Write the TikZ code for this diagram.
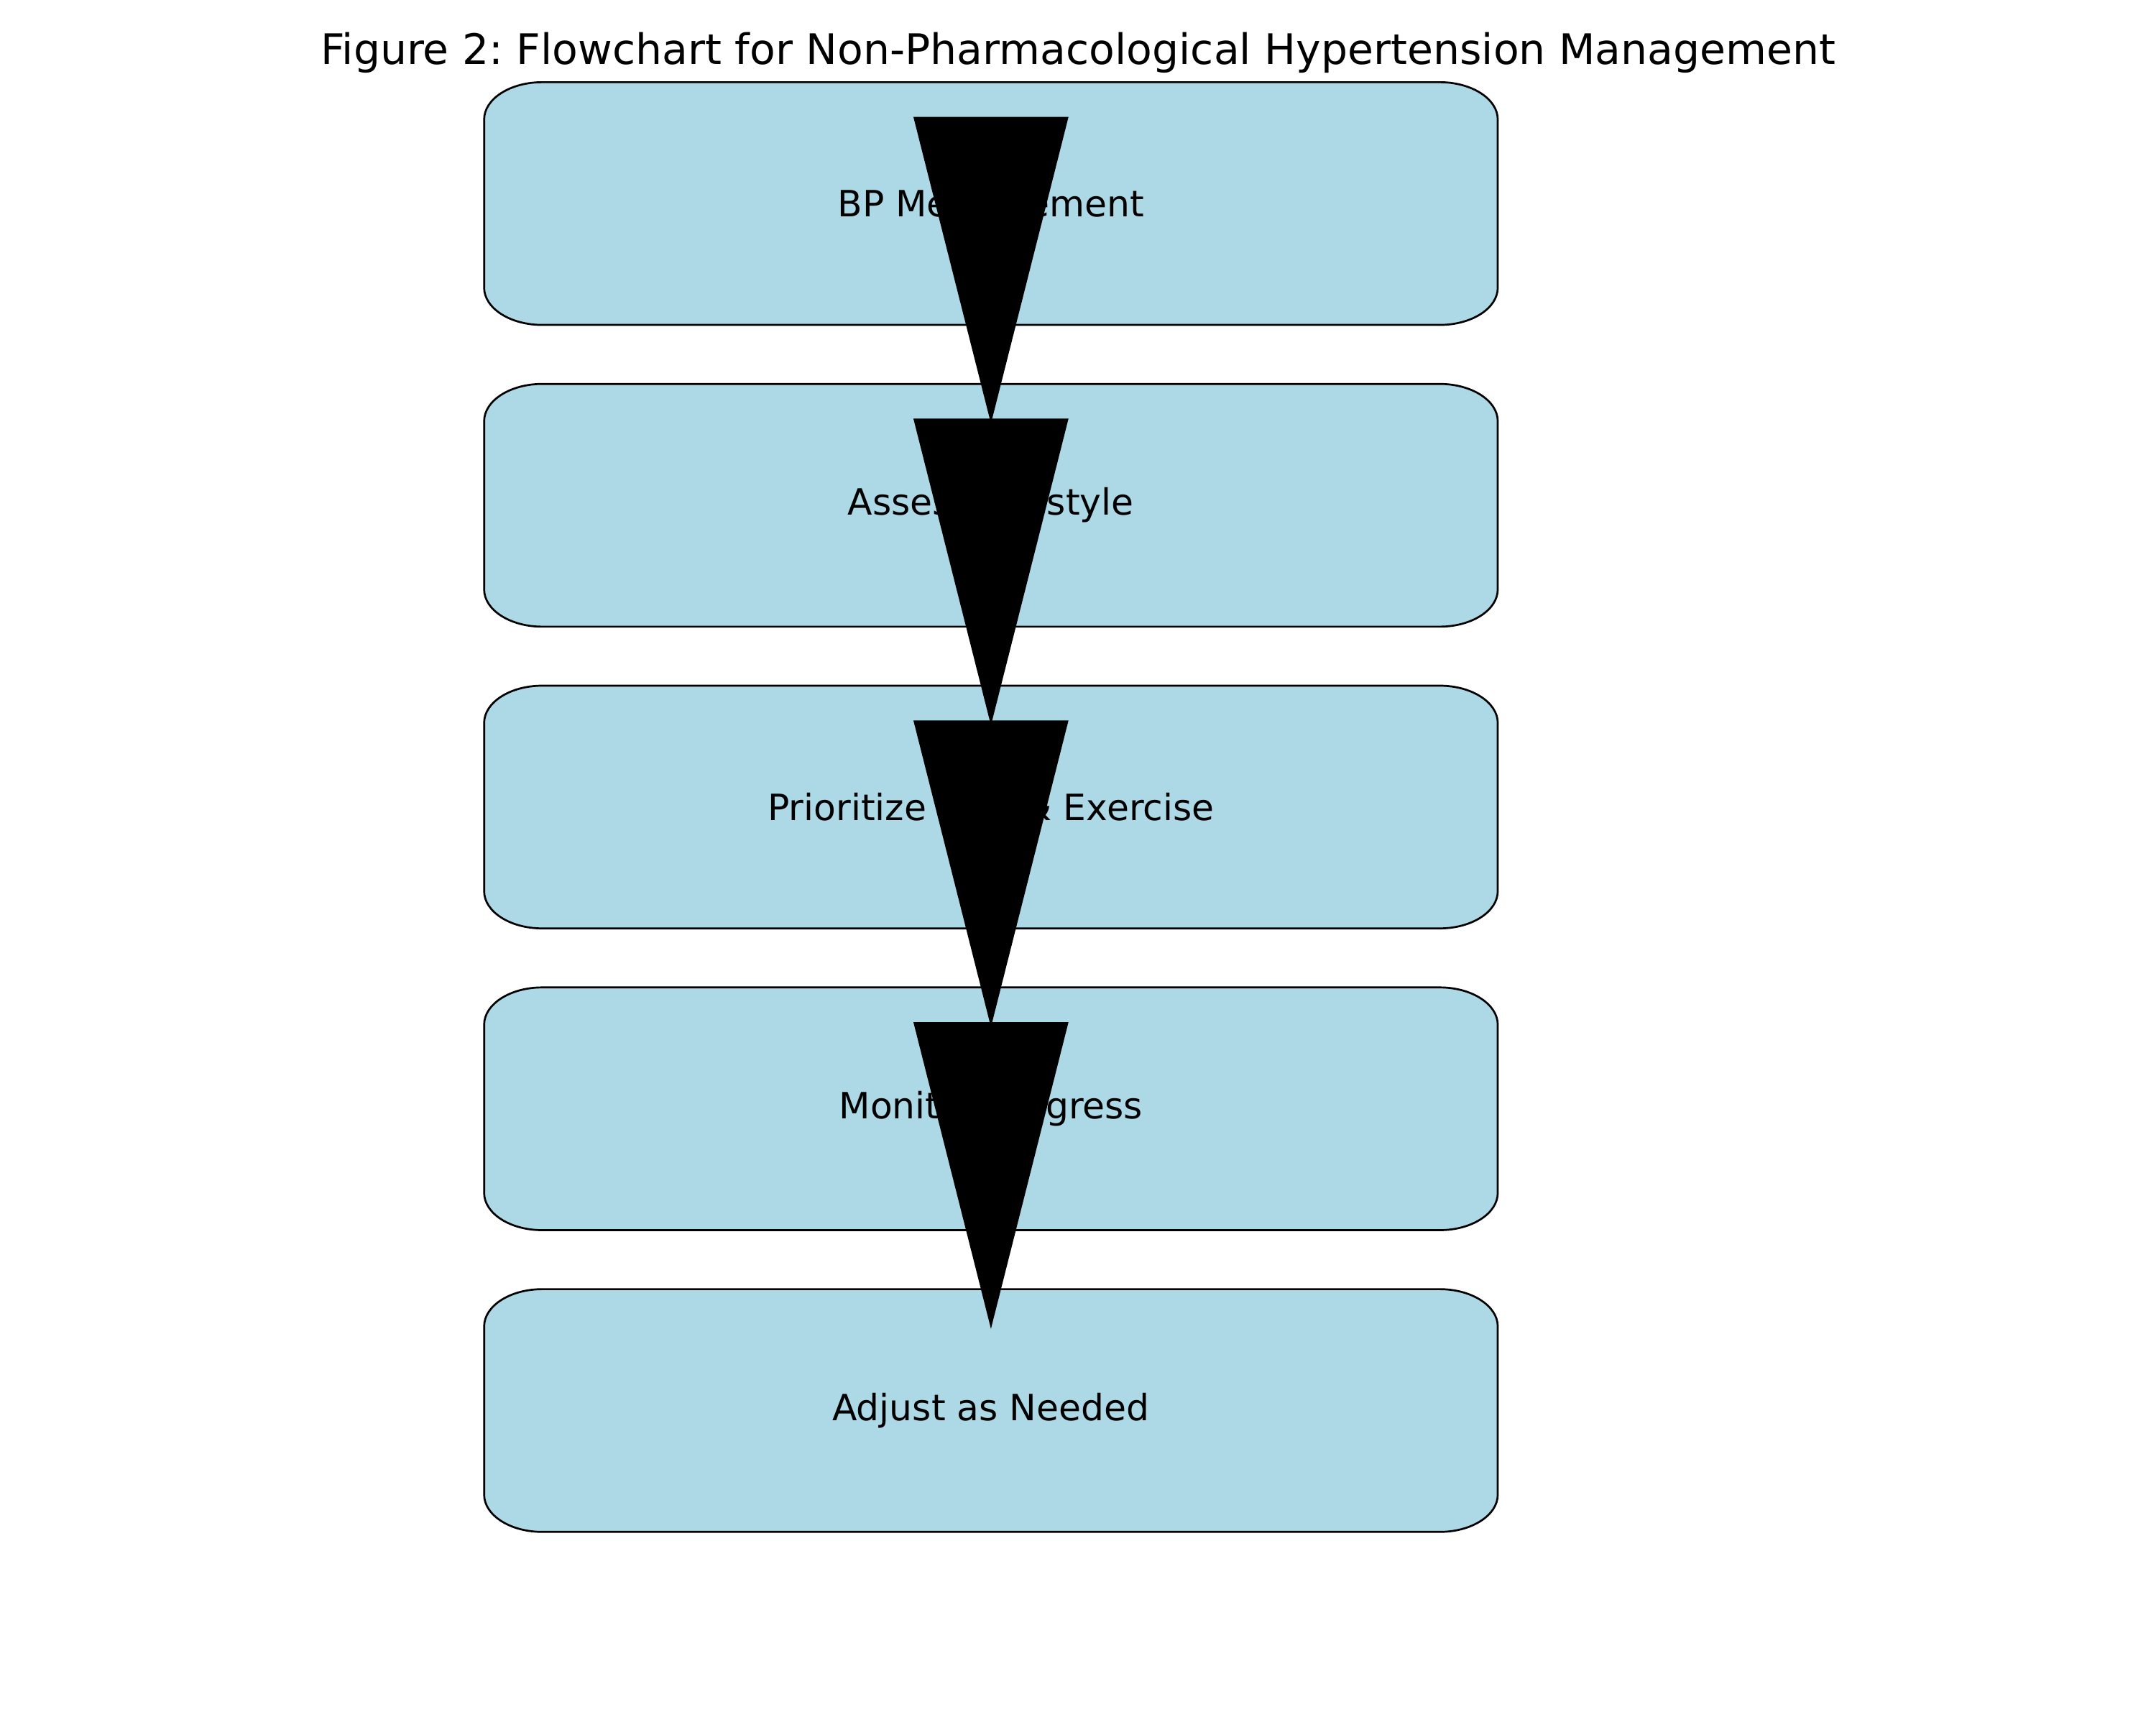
\documentclass[tikz,border=0pt]{standalone}
\usepackage{fontspec}
\setmainfont{DejaVu Sans}
\frenchspacing
\usetikzlibrary{positioning,backgrounds}
\definecolor{stagefill}{HTML}{ADD8E6}
\tikzstyle{stage} = [
rectangle,
minimum width=7.32cm,
minimum height=1.742cm,
inner sep=0pt,
font=\fontsize{7.45}{9}\selectfont
]
\tikzstyle{stageframe} = [
draw=black,
fill=stagefill,
line width=0.4pt
]
\tikzstyle{flow} = [
fill=black,
draw=black,
line width=0.4pt,
line join=miter
]
\begin{document}
\begin{tikzpicture}[
	node distance=2.183cm
	]
	\useasboundingbox (0,0) rectangle (15.6,12.48);

	\node[font=\fontsize{8.65}{10}\selectfont,anchor=base] (title) at (7.802,12.012) {Figure 2: Flowchart for Non-Pharmacological Hypertension Management};

	\node[stage] (bp) at (7.170,11.007) {BP Measurement};
	\node[stage,below of=bp] (assess) {Assess Lifestyle};
	\node[stage,below of=assess] (prio) {Prioritize Diet \& Exercise};
	\node[stage,below of=prio] (monitor) {Monitor Progress};
	\node[stage,below of=monitor] (adjust) {Adjust as Needed};

	% rounded frames behind the texts
	\begin{scope}[on background layer]
	\foreach \n in {bp,assess,prio,monitor,adjust}
		\path[stageframe] ([xshift=0.42cm]\n.north west) -- ([xshift=-0.42cm]\n.north east)
		arc[start angle=90,end angle=0,x radius=0.42cm,y radius=0.27cm]
		-- ([yshift=0.27cm]\n.south east)
		arc[start angle=0,end angle=-90,x radius=0.42cm,y radius=0.27cm]
		-- ([xshift=0.42cm]\n.south west)
		arc[start angle=270,end angle=180,x radius=0.42cm,y radius=0.27cm]
		-- ([yshift=-0.27cm]\n.north west)
		arc[start angle=180,end angle=90,x radius=0.42cm,y radius=0.27cm]
		-- cycle;
	\end{scope}

	% arrows
	\foreach \a/\b in {bp/assess,assess/prio,prio/monitor,monitor/adjust}
		\path[flow] ([xshift=-0.552cm,yshift=0.62cm]\a.center) -- ([xshift=0.552cm,yshift=0.62cm]\a.center) -- ([yshift=0.62cm]\b.center) -- cycle;
\end{tikzpicture}
\end{document}
